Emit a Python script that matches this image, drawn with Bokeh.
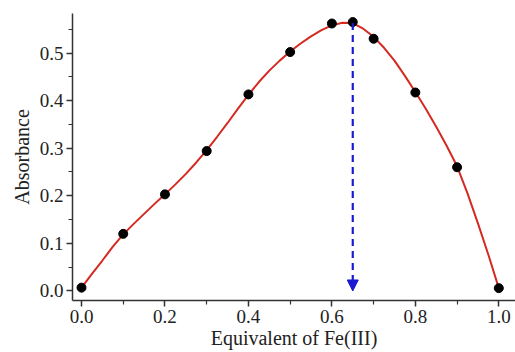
from bokeh.plotting import figure
from bokeh.models import Range1d, Arrow, NormalHead, FixedTicker
from bokeh.embed import file_html
from bokeh.resources import INLINE

# measured points
eq_x = [0.0, 0.1, 0.2, 0.3, 0.4, 0.5, 0.6, 0.65, 0.7, 0.8, 0.9, 1.0]
absorb = [0.007, 0.120, 0.203, 0.294, 0.413, 0.502, 0.562, 0.565, 0.530, 0.417, 0.260, 0.006]

# fitted curve
fit_x = [0.0, 0.025, 0.05, 0.075, 0.1, 0.125, 0.15, 0.175, 0.2, 0.225, 0.25, 0.275,
         0.3, 0.325, 0.35, 0.375, 0.4, 0.425, 0.45, 0.475, 0.5, 0.525, 0.55, 0.575,
         0.6, 0.625, 0.65, 0.675, 0.7, 0.725, 0.75, 0.775, 0.8, 0.825, 0.85, 0.875,
         0.9, 0.925, 0.95, 0.975, 1.0]
fit_y = [0.007, 0.036, 0.064, 0.093, 0.119, 0.141, 0.162, 0.183, 0.203, 0.224, 0.246, 0.270,
         0.296, 0.324, 0.353, 0.383, 0.412, 0.439, 0.463, 0.484, 0.503, 0.520, 0.535, 0.548,
         0.558, 0.5635, 0.563, 0.551, 0.534, 0.511, 0.484, 0.452, 0.418, 0.383, 0.345, 0.305,
         0.262, 0.205, 0.142, 0.076, 0.006]

peak_x = 0.65
peak_top = 0.563
peak_bottom = 0.0

x_ticks = [0.0, 0.2, 0.4, 0.6, 0.8, 1.0]
y_ticks = [0.0, 0.1, 0.2, 0.3, 0.4, 0.5]

p = figure(width=515, height=352, output_backend="svg", toolbar_location=None,
           x_range=Range1d(-0.0216, 1.04), y_range=Range1d(-0.02, 0.583),
           min_border_left=72, min_border_right=0, min_border_top=13, min_border_bottom=52)
p.outline_line_color = None
p.grid.visible = False
p.background_fill_color = "white"
p.border_fill_color = "white"

p.line(fit_x, fit_y, line_color="#d42a22", line_width=2)
p.scatter(eq_x, absorb, size=9, fill_color="black", line_color="black")

p.add_layout(Arrow(end=NormalHead(size=11, fill_color="#1a1ad0", line_color="#1a1ad0"),
                   x_start=peak_x, y_start=peak_top, x_end=peak_x, y_end=peak_bottom,
                   line_color="#1a1ad0", line_width=2.2, line_dash="7 5"))

for ax in (p.xaxis[0], p.yaxis[0]):
    ax.axis_line_color = "#333333"
    ax.axis_line_width = 1.5
    ax.major_tick_line_color = "#333333"
    ax.minor_tick_line_color = "#333333"
    ax.major_tick_line_width = 1.5
    ax.minor_tick_line_width = 1.2
    ax.major_tick_out = 6
    ax.major_tick_in = 0
    ax.minor_tick_out = 4
    ax.minor_tick_in = 0
    ax.major_label_text_font = "Times New Roman"
    ax.major_label_text_font_size = "19px"
    ax.major_label_text_color = "#222222"
    ax.axis_label_text_font = "Times New Roman"
    ax.axis_label_text_font_size = "20px"
    ax.axis_label_text_font_style = "normal"
    ax.axis_label_text_color = "#222222"
    ax.major_label_standoff = 3

p.xaxis[0].ticker = FixedTicker(ticks=x_ticks, minor_ticks=[0.1, 0.3, 0.5, 0.7, 0.9])
p.yaxis[0].ticker = FixedTicker(ticks=y_ticks, minor_ticks=[0.05, 0.15, 0.25, 0.35, 0.45, 0.55])
p.xaxis[0].major_label_overrides = {t: f"{t:.1f}" for t in x_ticks}
p.yaxis[0].major_label_overrides = {t: f"{t:.1f}" for t in y_ticks}
p.xaxis[0].axis_label = "Equivalent of Fe(III)"
p.yaxis[0].axis_label = "Absorbance"
p.xaxis[0].axis_label_standoff = 1
p.yaxis[0].axis_label_standoff = 4

open("out.html", "w").write(file_html(p, INLINE))
